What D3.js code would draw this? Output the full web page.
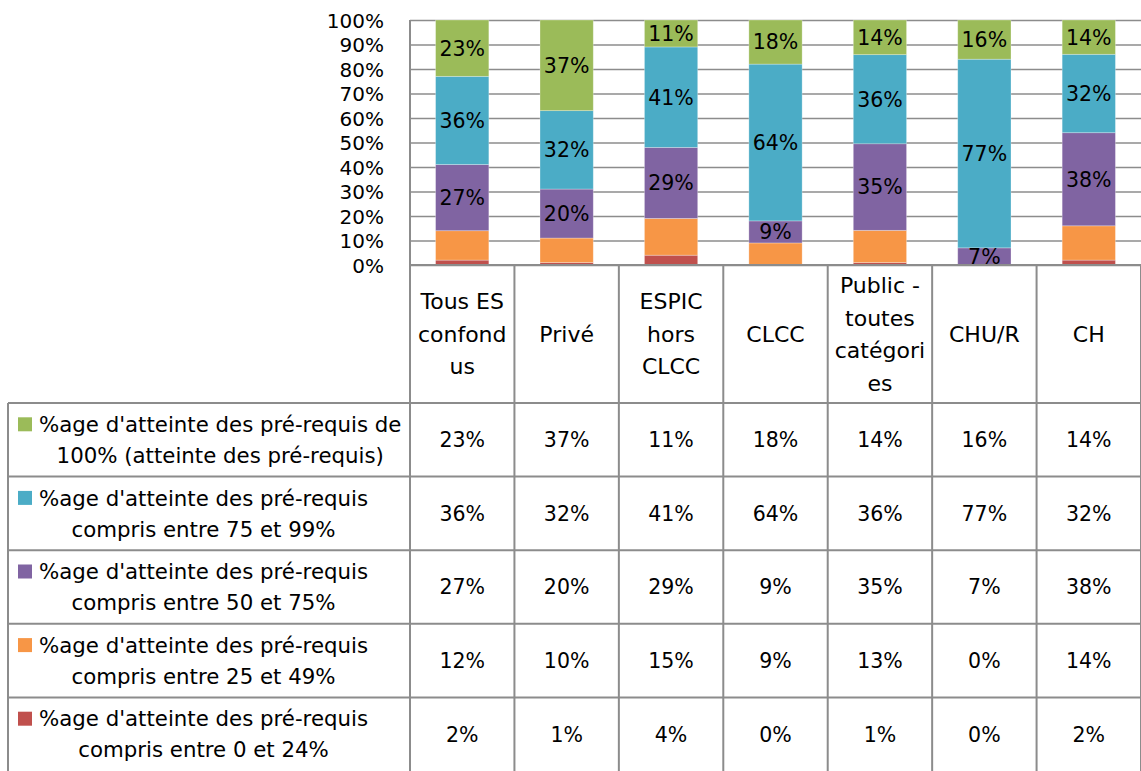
<!DOCTYPE html>
<html>
<head>
<meta charset="utf-8">
<script src="https://cdn.jsdelivr.net/npm/d3@7"></script>
<style>
  body { margin: 0; background: #fff; }
  svg text { font-family: "DejaVu Sans", sans-serif; fill: #000; }
</style>
</head>
<body>
<svg id="chart"></svg>
<script>
// categories (header lines are how the table wraps them)
const categories = ["Tous ES confondus", "Privé", "ESPIC hors CLCC", "CLCC", "Public - toutes catégories", "CHU/R", "CH"];
const headerLines = [["Tous ES", "confond", "us"], ["Privé"], ["ESPIC", "hors", "CLCC"], ["CLCC"], ["Public -", "toutes", "catégori", "es"], ["CHU/R"], ["CH"]];

// series, bottom of the stack first
const seriesKeys = ["p0", "p25", "p50", "p75", "p100"];
const seriesLabels = {
    p100: ["%age d'atteinte des pré-requis de", "100% (atteinte des pré-requis)"],
    p75: ["%age d'atteinte des pré-requis", "compris entre 75 et 99%"],
    p50: ["%age d'atteinte des pré-requis", "compris entre 50 et 75%"],
    p25: ["%age d'atteinte des pré-requis", "compris entre 25 et 49%"],
    p0: ["%age d'atteinte des pré-requis", "compris entre 0 et 24%"]
};
const seriesColors = { p100: "#9bbb59", p75: "#4bacc6", p50: "#8064a2", p25: "#f79646", p0: "#c0504d" };
const labelledSeries = ["p50", "p75", "p100"];

const p100 = [23, 37, 11, 18, 14, 16, 14];
const p75 = [36, 32, 41, 64, 36, 77, 32];
const p50 = [27, 20, 29, 9, 35, 7, 38];
const p25 = [12, 10, 15, 9, 13, 0, 14];
const p0 = [2, 1, 4, 0, 1, 0, 2];

const yTicks = [0, 0.1, 0.2, 0.3, 0.4, 0.5, 0.6, 0.7, 0.8, 0.9, 1];

const values = { p0, p25, p50, p75, p100 };
const data = categories.map((c, i) => {
    const row = { cat: c };
    seriesKeys.forEach(k => row[k] = values[k][i]);
    return row;
});

const W = 1141, H = 771;
const plot = { left: 410, top: 20, bottom: 265 };
const colW = 104.43;
const tableLeft = 8;
const headerBottom = 403;
const rowH = 73.6;
const gridColor = "#8c8c8c";

const svg = d3.select("#chart").attr("width", W).attr("height", H);

const xscale = d3.scaleBand()
    .domain(categories)
    .range([plot.left, plot.left + colW * categories.length])
    .paddingInner(0.49)
    .paddingOuter(0.245);
const colScale = d3.scaleBand()
    .domain(categories)
    .range([plot.left, plot.left + colW * categories.length]);
const yscale = d3.scaleLinear().domain([0, 1]).range([plot.bottom, plot.top]);

// gridlines
const grid = svg.append("g")
    .attr("transform", `translate(${plot.left},0)`)
    .call(d3.axisLeft(yscale).tickValues(yTicks).tickSize(-(W - plot.left)).tickFormat(""));
grid.select(".domain").remove();
grid.selectAll("line").attr("stroke", gridColor).attr("stroke-width", 1.5);

// y axis labels
const yaxis = svg.append("g")
    .attr("transform", `translate(${plot.left - 26},0)`)
    .call(d3.axisLeft(yscale).tickValues(yTicks).tickSize(0).tickPadding(0).tickFormat(d3.format(".0%")));
yaxis.select(".domain").remove();
yaxis.selectAll("text").style("font-size", "20px").attr("dy", "0.35em");

// stacked bars
const stacked = d3.stack().keys(seriesKeys).offset(d3.stackOffsetExpand)(data);

svg.append("clipPath").attr("id", "plotclip")
    .append("rect")
    .attr("x", plot.left).attr("y", plot.top)
    .attr("width", W - plot.left).attr("height", plot.bottom - plot.top);

const layers = svg.append("g").selectAll("g")
    .data(stacked)
    .join("g")
    .attr("fill", d => seriesColors[d.key]);

layers.selectAll("rect")
    .data(d => d)
    .join("rect")
    .attr("x", d => xscale(d.data.cat))
    .attr("width", xscale.bandwidth())
    .attr("y", d => yscale(d[1]))
    .attr("height", d => yscale(d[0]) - yscale(d[1]))
    .attr("stroke", "#fff")
    .attr("stroke-opacity", 0.35)
    .attr("stroke-width", 0.8);

// data labels on the top three series
const labelGroup = svg.append("g").attr("clip-path", "url(#plotclip)");
stacked.filter(s => labelledSeries.includes(s.key)).forEach(s => {
    labelGroup.selectAll(null)
        .data(s.filter(d => d.data[s.key] > 0))
        .join("text")
        .attr("x", d => xscale(d.data.cat) + xscale.bandwidth() / 2)
        .attr("y", d => yscale((d[0] + d[1]) / 2))
        .attr("dy", "0.36em")
        .attr("text-anchor", "middle")
        .style("font-size", "20.5px")
        .text(d => d.data[s.key] + "%");
});

// plot left border
svg.append("line")
    .attr("x1", plot.left).attr("x2", plot.left)
    .attr("y1", plot.top).attr("y2", H)
    .attr("stroke", gridColor).attr("stroke-width", 2);

// data table
const table = svg.append("g");
const tableRows = ["p100", "p75", "p50", "p25", "p0"];

// vertical column lines
categories.forEach((c, i) => {
    table.append("line")
        .attr("x1", colScale(c) + colW).attr("x2", colScale(c) + colW)
        .attr("y1", plot.bottom).attr("y2", H)
        .attr("stroke", gridColor).attr("stroke-width", 2);
});
table.append("line")
    .attr("x1", tableLeft).attr("x2", tableLeft)
    .attr("y1", headerBottom).attr("y2", H)
    .attr("stroke", gridColor).attr("stroke-width", 2);

// horizontal lines
table.append("line")
    .attr("x1", plot.left).attr("x2", W)
    .attr("y1", plot.bottom).attr("y2", plot.bottom)
    .attr("stroke", gridColor).attr("stroke-width", 2);
tableRows.forEach((k, r) => {
    const y = headerBottom + r * rowH;
    table.append("line")
        .attr("x1", tableLeft).attr("x2", W)
        .attr("y1", y).attr("y2", y)
        .attr("stroke", gridColor).attr("stroke-width", 2);
});

// header texts
const headerMid = (plot.bottom + headerBottom) / 2;
const headerLH = 32.5;
categories.forEach((c, i) => {
    const lines = headerLines[i];
    const t = table.append("text")
        .attr("text-anchor", "middle")
        .style("font-size", "22px");
    lines.forEach((ln, j) => {
        t.append("tspan")
            .attr("x", colScale(c) + colW / 2)
            .attr("y", headerMid + (j - (lines.length - 1) / 2) * headerLH)
            .attr("dy", "0.36em")
            .text(ln);
    });
});

// row labels with legend keys, and values
const labelLH = 31;
tableRows.forEach((k, r) => {
    const mid = headerBottom + (r + 0.5) * rowH;
    const lines = seriesLabels[k];
    const y1 = mid - labelLH / 2;

    table.append("rect")
        .attr("x", 18).attr("y", y1 - 7)
        .attr("width", 14).attr("height", 14)
        .attr("fill", seriesColors[k]);

    const t = table.append("text")
        .attr("text-anchor", "middle")
        .style("font-size", "21.3px");
    const spans = lines.map((ln, j) => t.append("tspan")
        .attr("y", y1 + j * labelLH)
        .attr("dy", "0.36em")
        .text(ln));
    const maxW = d3.max(spans, s => s.node().getComputedTextLength());
    spans.forEach(s => s.attr("x", 39 + maxW / 2));

    categories.forEach((c, i) => {
        table.append("text")
            .attr("x", colScale(c) + colW / 2)
            .attr("y", mid)
            .attr("dy", "0.36em")
            .attr("text-anchor", "middle")
            .style("font-size", "20.5px")
            .text(values[k][i] + "%");
    });
});
</script>
</body>
</html>
